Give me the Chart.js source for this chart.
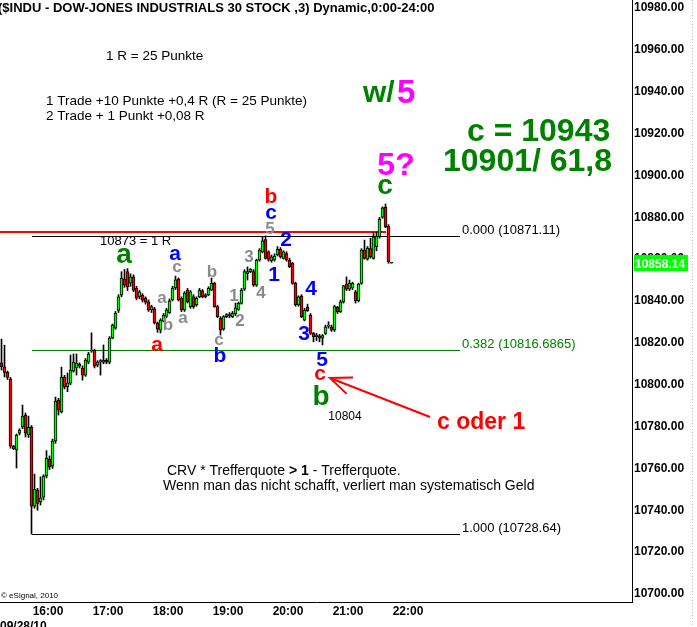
<!DOCTYPE html>
<html>
<head>
<meta charset="utf-8">
<title>$INDU 3 min</title>
<script src="https://cdn.jsdelivr.net/npm/chart.js@4.4.1/dist/chart.umd.min.js"></script>
<style>
  body { margin: 0; background: #fff; }
  canvas { display: block; }
</style>
</head>
<body>
<canvas id="chart" width="697" height="627"></canvas>
<script>
// 3 minute bars, the first one starts 15:12
let firstBar = "15:12";
let barMinutes = 3;

let opens = [
  10810.5, 10808.6, 10805.9, 10802.7, 10770.7, 10768.8, 10776.9, 10779.8, 10785.5, 10776.0,
  10779.7, 10742.0, 10749.7, 10744.0, 10746.3, 10756.4, 10764.5, 10761.1, 10773.1, 10792.7,
  10787.0, 10803.7, 10798.9, 10800.8, 10806.5, 10808.0, 10809.9, 10808.0, 10804.6, 10810.8,
  10816.1, 10816.6, 10809.4, 10810.8, 10810.8, 10811.8, 10810.8, 10822.3, 10827.0, 10835.5,
  10842.8, 10850.5, 10854.0, 10848.5, 10851.6, 10846.2, 10842.0, 10842.8, 10841.4, 10839.6,
  10835.7, 10836.2, 10829.5, 10826.1, 10830.4, 10832.8, 10834.4, 10840.5, 10846.2, 10850.5,
  10841.4, 10835.7, 10845.2, 10837.3, 10842.0, 10838.1, 10842.0, 10844.9, 10842.0, 10842.9,
  10845.2, 10848.4, 10837.3, 10831.7, 10826.6, 10832.5, 10833.5, 10832.5, 10833.8, 10836.0,
  10838.9, 10845.6, 10853.0, 10854.0, 10854.0, 10847.6, 10859.6, 10863.5, 10869.4, 10863.5,
  10859.3, 10859.6, 10862.0, 10864.7, 10860.4, 10862.7, 10859.6, 10858.0, 10848.4, 10838.1,
  10842.4, 10830.9, 10837.0, 10833.3, 10824.5, 10823.0, 10823.4, 10822.2, 10824.5, 10828.0,
  10827.7, 10826.1, 10837.1, 10834.9, 10839.6, 10848.1, 10845.7, 10846.2, 10844.4, 10840.1,
  10848.4, 10864.3, 10860.0, 10865.0, 10860.4, 10866.0, 10870.7, 10880.0, 10884.8, 10875.8,
  10858.14
];
let highs = [
  10821.8, 10818.9, 10806.5, 10803.5, 10771.0, 10776.5, 10779.0, 10790.3, 10786.5, 10785.0,
  10780.5, 10757.3, 10750.5, 10756.0, 10757.0, 10768.5, 10766.0, 10774.0, 10794.1, 10793.5,
  10808.4, 10804.5, 10805.6, 10814.2, 10814.7, 10814.7, 10810.5, 10809.0, 10812.5, 10815.5,
  10824.8, 10817.0, 10811.5, 10812.0, 10819.0, 10812.5, 10823.0, 10829.0, 10835.0, 10843.0,
  10854.0, 10855.1, 10855.5, 10853.0, 10852.5, 10847.0, 10845.0, 10843.5, 10842.0, 10840.5,
  10838.0, 10837.0, 10830.0, 10831.5, 10834.0, 10836.5, 10841.0, 10847.0, 10851.9, 10851.0,
  10842.0, 10844.5, 10846.0, 10845.0, 10843.0, 10842.0, 10846.0, 10845.5, 10843.5, 10846.8,
  10851.0, 10849.0, 10838.0, 10832.5, 10833.0, 10834.0, 10834.5, 10835.0, 10839.1, 10839.5,
  10846.0, 10855.0, 10856.3, 10855.5, 10855.0, 10860.0, 10865.0, 10870.7, 10871.11, 10864.0,
  10862.0, 10862.5, 10866.0, 10865.5, 10864.0, 10863.5, 10860.5, 10858.5, 10849.0, 10842.5,
  10843.0, 10836.5, 10838.5, 10834.0, 10825.0, 10824.5, 10824.0, 10824.0, 10828.5, 10830.1,
  10828.5, 10838.0, 10837.5, 10840.5, 10847.5, 10851.5, 10850.0, 10849.0, 10845.0, 10848.5,
  10865.0, 10869.1, 10866.0, 10870.0, 10872.5, 10873.0, 10880.0, 10885.0, 10886.3, 10876.5,
  10858.4
];
let lows = [
  10807.0, 10803.7, 10802.5, 10769.7, 10769.0, 10760.2, 10776.0, 10779.0, 10775.0, 10774.8,
  10728.64, 10741.0, 10740.0, 10742.5, 10745.0, 10755.5, 10759.5, 10760.0, 10772.0, 10785.5,
  10786.5, 10798.0, 10796.7, 10800.0, 10806.0, 10804.6, 10808.0, 10802.2, 10804.0, 10810.0,
  10815.5, 10808.0, 10808.5, 10804.6, 10810.0, 10810.0, 10810.0, 10822.0, 10826.5, 10834.5,
  10842.0, 10846.5, 10845.0, 10847.0, 10844.5, 10840.5, 10841.0, 10839.5, 10838.5, 10835.0,
  10834.5, 10829.0, 10825.0, 10824.7, 10830.0, 10832.0, 10834.0, 10840.0, 10845.5, 10840.0,
  10834.9, 10835.0, 10839.0, 10836.5, 10836.5, 10837.5, 10841.5, 10841.5, 10841.5, 10842.5,
  10845.0, 10837.0, 10832.0, 10823.7, 10826.0, 10832.0, 10832.0, 10832.0, 10833.0, 10835.5,
  10838.5, 10845.0, 10850.0, 10853.5, 10847.0, 10847.0, 10859.0, 10863.0, 10860.0, 10859.0,
  10858.5, 10859.0, 10861.5, 10860.5, 10860.0, 10859.0, 10856.0, 10848.0, 10837.5, 10837.5,
  10832.0, 10830.5, 10835.0, 10824.0, 10820.5, 10821.0, 10820.5, 10819.0, 10824.0, 10827.0,
  10825.5, 10825.5, 10834.0, 10834.5, 10839.0, 10845.0, 10845.0, 10845.5, 10839.0, 10839.5,
  10848.0, 10860.0, 10859.5, 10860.5, 10860.0, 10864.0, 10870.0, 10879.5, 10875.0, 10858.0,
  10858.0
];
let closes = [
  10808.6, 10805.9, 10803.5, 10770.7, 10769.3, 10776.0, 10778.3, 10785.0, 10776.8, 10779.7,
  10742.0, 10750.0, 10743.3, 10746.0, 10756.4, 10765.0, 10760.7, 10773.1, 10792.2, 10787.9,
  10803.7, 10798.9, 10800.8, 10807.0, 10810.8, 10810.4, 10808.9, 10804.6, 10811.8, 10814.7,
  10816.4, 10808.9, 10810.8, 10811.5, 10811.8, 10810.8, 10822.3, 10828.5, 10834.2, 10842.0,
  10851.0, 10847.6, 10846.8, 10851.6, 10845.2, 10841.4, 10844.4, 10840.5, 10839.5, 10835.7,
  10837.3, 10829.5, 10826.6, 10830.9, 10833.3, 10835.7, 10840.1, 10846.2, 10850.1, 10840.5,
  10835.7, 10843.8, 10839.6, 10844.4, 10837.3, 10841.3, 10845.2, 10842.0, 10843.0, 10846.1,
  10848.4, 10837.3, 10832.5, 10826.1, 10832.5, 10833.5, 10833.0, 10834.1, 10836.7, 10838.9,
  10845.2, 10854.0, 10854.0, 10855.1, 10847.6, 10859.6, 10864.3, 10868.8, 10860.4, 10859.9,
  10861.1, 10861.5, 10864.7, 10861.1, 10863.5, 10859.6, 10856.4, 10848.4, 10838.1, 10842.0,
  10832.5, 10835.7, 10835.4, 10824.5, 10823.0, 10823.7, 10822.2, 10823.5, 10827.7, 10828.2,
  10826.1, 10837.3, 10834.9, 10839.6, 10847.2, 10845.7, 10848.5, 10848.5, 10840.1, 10848.1,
  10864.3, 10860.4, 10865.3, 10861.0, 10870.7, 10871.0, 10879.1, 10884.5, 10875.5, 10858.8,
  10858.14
];

let hourTicks = ["16:00", "17:00", "18:00", "19:00", "20:00", "21:00", "22:00"];
let priceTicks = [10700, 10720, 10740, 10760, 10780, 10800, 10820, 10840, 10860, 10880, 10900, 10920, 10940, 10960, 10980];
let lastPrice = 10858.14;

// "10873 = 1 R" line
let riskLevel = 10873;
let riskLineEnd = "21:38";

// fibonacci retracement from the 15:42 low
let fibStartBar = 10;
let fibEnd = "22:52";
let fibRatios = ["0.000", "0.382", "1.000"];
let fibPrices = [10871.11, 10816.6865, 10728.64];

// wave count letters: text, time, price, kind
let waveLabels = [
  ["a", "17:16", 10861.5, "green"],
  ["a", "18:07", 10862.0, "blue"],
  ["c", "18:09", 10856.2, "grey"],
  ["a", "17:54", 10841.0, "grey"],
  ["b", "18:00", 10829.0, "grey"],
  ["a", "18:15", 10831.4, "grey"],
  ["a", "17:49", 10818.5, "red"],
  ["b", "18:44", 10854.3, "grey"],
  ["c", "18:51", 10820.9, "grey"],
  ["b", "18:52", 10814.7, "blue"],
  ["1", "19:06", 10842.8, "grey"],
  ["2", "19:12", 10830.9, "grey"],
  ["3", "19:21", 10861.5, "grey"],
  ["4", "19:33", 10844.3, "grey"],
  ["5", "19:42", 10874.9, "grey"],
  ["c", "19:43", 10882.0, "blue"],
  ["b", "19:43", 10890.2, "red"],
  ["2", "19:58", 10870.1, "blue"],
  ["1", "19:46", 10853.4, "blue"],
  ["4", "20:23", 10846.7, "blue"],
  ["3", "20:16", 10825.2, "blue"],
  ["5", "20:34", 10812.7, "blue"],
  ["c", "20:32", 10805.1, "red"],
  ["b", "20:33", 10795.1, "green"],
  ["c", "21:37", 10894.5, "green"],
  ["5?", "21:48", 10905.9, "pink"]
];

let FONT = '"Liberation Sans", Arial, sans-serif';
let waveStyle = {
  green: {color: "#008000", size: 28},
  red: {color: "#ff0000", size: 21},
  blue: {color: "#0000ff", size: 21},
  grey: {color: "#8a8a8a", size: 17},
  pink: {color: "#ff00ff", size: 32}
};

function toMin(s) {
    let p = s.split(":");
    return +p[0] * 60 + +p[1];
}

function fmtMin(v) {
    return String(Math.floor(v / 60)).padStart(2, "0") + ":" + String(v % 60).padStart(2, "0");
}

let times = opens.map((_, i) => toMin(firstBar) + barMinutes * i + barMinutes / 2);

function text(ctx, str, x, y, font, color, align) {
    ctx.font = font;
    ctx.fillStyle = color;
    ctx.textAlign = align || "left";
    ctx.textBaseline = "alphabetic";
    ctx.fillText(str, x, y);
}

let annotate = {
    id: "annotate",
    beforeDatasetsDraw(chart) {
        let ctx = chart.ctx, xs = chart.scales.x, ys = chart.scales.y;
        let area = chart.chartArea;
        ctx.save();
        // fib lines
        let fx0 = Math.round(xs.getPixelForValue(times[fibStartBar]));
        let fx1 = xs.getPixelForValue(toMin(fibEnd));
        fibPrices.forEach((p, k) => {
            let py = Math.round(ys.getPixelForValue(p)) + 0.5;
            ctx.strokeStyle = k == 1 ? "#008000" : "#000";
            ctx.lineWidth = 1;
            ctx.beginPath();
            ctx.moveTo(fx0, py);
            ctx.lineTo(fx1, py);
            ctx.stroke();
            text(ctx, fibRatios[k] + " (" + p + ")", fx1 + 2, py - 3, "13px " + FONT, k == 1 ? "#008000" : "#000");
        });
        // 1 R line
        let ry = Math.round(ys.getPixelForValue(riskLevel));
        ctx.strokeStyle = "#ff0000";
        ctx.lineWidth = 2;
        ctx.beginPath();
        ctx.moveTo(area.left, ry);
        ctx.lineTo(xs.getPixelForValue(toMin(riskLineEnd)), ry);
        ctx.stroke();
        ctx.restore();
    },
    afterDraw(chart) {
        let ctx = chart.ctx, xs = chart.scales.x, ys = chart.scales.y;
        ctx.save();

        text(ctx, "($INDU - DOW-JONES INDUSTRIALS 30 STOCK ,3) Dynamic,0:00-24:00", -2, 12, "bold 13px " + FONT, "#000");
        text(ctx, "1 R = 25 Punkte", 106, 60, "13.5px " + FONT, "#000");
        text(ctx, "1 Trade +10 Punkte +0,4 R (R = 25 Punkte)", 46, 105, "13.5px " + FONT, "#000");
        text(ctx, "2 Trade + 1 Punkt +0,08 R", 46, 120, "13.5px " + FONT, "#000");
        text(ctx, "10873 = 1 R", 100, 245, "13px " + FONT, "#000");

        // wave letters
        waveLabels.forEach(l => {
            let st = waveStyle[l[3]];
            let lift = /^[ac]$/.test(l[0]) ? 0.26 : 0.36;
            let px = xs.getPixelForValue(toMin(l[1]));
            let py = ys.getPixelForValue(l[2]);
            text(ctx, l[0], px, py + lift * st.size, "bold " + st.size + "px " + FONT, st.color, "center");
        });
        text(ctx, "10804", xs.getPixelForValue(toMin("20:57")), ys.getPixelForValue(10785.5) + 4.5, "12px " + FONT, "#000", "center");

        // w/5 and targets
        text(ctx, "w/", 363, 102, "bold 30px " + FONT, "#008000");
        text(ctx, "5", 397, 103, "bold 33px " + FONT, "#ff00ff");
        text(ctx, "c = 10943", 467, 141, "bold 32px " + FONT, "#008000");
        text(ctx, "10901/ 61,8", 443, 171, "bold 32px " + FONT, "#008000");

        // arrow "c oder 1"
        let ax0 = xs.getPixelForValue(toMin("22:22")), ay0 = ys.getPixelForValue(10784.6);
        let ax1 = xs.getPixelForValue(toMin("20:42")), ay1 = ys.getPixelForValue(10803.2);
        let ang = Math.atan2(ay0 - ay1, ax0 - ax1);
        ctx.strokeStyle = "#ff0000";
        ctx.lineWidth = 2;
        ctx.beginPath();
        ctx.moveTo(ax0, ay0);
        ctx.lineTo(ax1, ay1);
        ctx.moveTo(ax1 + 23 * Math.cos(ang - 0.39), ay1 + 23 * Math.sin(ang - 0.39));
        ctx.lineTo(ax1, ay1);
        ctx.lineTo(ax1 + 23 * Math.cos(ang + 0.39), ay1 + 23 * Math.sin(ang + 0.39));
        ctx.stroke();
        text(ctx, "c oder 1", 437, 429, "bold 23px " + FONT, "#ff0000");

        // CRV text
        let cx = 167;
        ctx.font = "14px " + FONT;
        text(ctx, "CRV * Trefferquote ", cx, 475, "14px " + FONT, "#000");
        cx += ctx.measureText("CRV * Trefferquote ").width;
        text(ctx, "> 1", cx, 475, "bold 14px " + FONT, "#000");
        cx += ctx.measureText("> 1").width;
        text(ctx, " - Trefferquote.", cx, 475, "14px " + FONT, "#000");
        text(ctx, "Wenn man das nicht schafft, verliert man systematisch Geld", 163, 490, "14px " + FONT, "#000");

        text(ctx, "\u00a9 eSignal, 2010", 1, 598, "8px " + FONT, "#000");
        text(ctx, "09/28/10", 0, 630, "bold 12px " + FONT, "#000");

        // last price tag
        let ly = Math.round(ys.getPixelForValue(lastPrice));
        ctx.fillStyle = "#00ff00";
        ctx.fillRect(634, ly - 8, 54, 16);
        text(ctx, lastPrice.toFixed(2), 635, ly + 5, "bold 12px " + FONT, "#fff");

        // dotted right border
        ctx.strokeStyle = "#c8c8c8";
        ctx.lineWidth = 1;
        ctx.setLineDash([1, 2]);
        ctx.beginPath();
        ctx.moveTo(692.5, 0);
        ctx.lineTo(692.5, 627);
        ctx.stroke();
        ctx.restore();
    }
};

let ctx = document.getElementById("chart");
let chart = new Chart(ctx, {
    type: "bar",
    data: {
        datasets: [
            {
                label: "wick",
                data: times.map((t, i) => ({x: t, y: [lows[i], highs[i]]})),
                backgroundColor: "#000",
                barThickness: 1,
                grouped: false,
                order: 2
            },
            {
                label: "body",
                data: times.map((t, i) => ({x: t, y: [opens[i], closes[i]]})),
                backgroundColor: opens.map((o, i) => closes[i] >= o ? "#00ff00" : "#ff0000"),
                borderColor: "#000",
                borderWidth: 1,
                borderSkipped: false,
                barThickness: 3,
                minBarLength: 1,
                grouped: false,
                order: 1
            }
        ]
    },
    options: {
        responsive: false,
        animation: false,
        devicePixelRatio: 1,
        layout: { padding: 0 },
        plugins: {
            legend: { display: false },
            tooltip: { enabled: false }
        },
        scales: {
            x: {
                type: "linear",
                offset: false,
                min: toMin(firstBar),
                max: toMin(firstBar) + 632,
                grid: { display: false, drawTicks: false },
                border: { display: true, color: "#000", width: 1 },
                ticks: {
                    autoSkip: false,
                    maxRotation: 0,
                    padding: 2,
                    color: "#000",
                    font: { family: FONT, size: 12, weight: "bold" },
                    callback: v => fmtMin(v)
                },
                afterBuildTicks: s => { s.ticks = hourTicks.map(h => ({value: toMin(h)})); },
                afterFit: s => { s.height = 25; s.paddingLeft = 0; s.paddingRight = 0; }
            },
            y: {
                position: "right",
                min: 10696.2,
                max: 10983.8,
                grid: { display: false, drawTicks: false },
                border: { display: true, color: "#000", width: 1 },
                ticks: {
                    padding: 2,
                    color: "#000",
                    font: { family: FONT, size: 12, weight: "bold" },
                    callback: v => v.toFixed(2)
                },
                afterBuildTicks: s => { s.ticks = priceTicks.map(v => ({value: v})); },
                afterFit: s => { s.width = 65; s.paddingTop = 0; s.paddingBottom = 0; }
            }
        }
    },
    plugins: [annotate]
});
</script>
</body>
</html>
